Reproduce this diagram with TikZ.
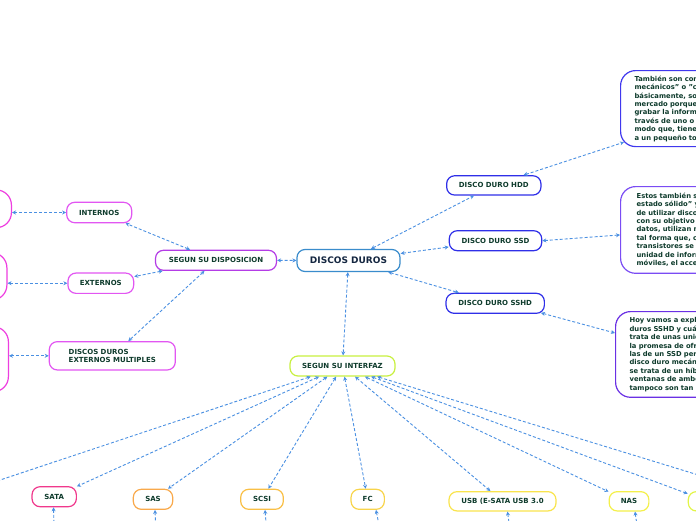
\documentclass[tikz,border=0pt]{standalone}
\usepackage{fontspec}
\setmainfont{DejaVu Sans}
\usetikzlibrary{arrows.meta,calc}
\definecolor{txt}{HTML}{0E3B2C}
\definecolor{navy}{HTML}{142640}
\definecolor{linkc}{HTML}{4A90E2}
\definecolor{cRoot}{HTML}{3A8CCC}
\definecolor{cDisp}{HTML}{B43CE6}
\definecolor{cSub}{HTML}{E256F2}
\definecolor{cLeft}{HTML}{EE3EE0}
\definecolor{cHdd}{HTML}{2F2FE8}
\definecolor{cBoxA}{HTML}{4038EE}
\definecolor{cBoxB}{HTML}{7A4CF4}
\definecolor{cBoxC}{HTML}{6A30E4}
\definecolor{cInt}{HTML}{C8F040}
\definecolor{cSata}{HTML}{F0388C}
\definecolor{cSas}{HTML}{F9A94B}
\definecolor{cScsi}{HTML}{F9BF45}
\definecolor{cFc}{HTML}{F8D44A}
\definecolor{cUsb}{HTML}{F9E44D}
\definecolor{cNas}{HTML}{F4F04B}
\definecolor{cLast}{HTML}{E2F548}
\begin{document}
\begin{tikzpicture}[x=1pt,y=-1pt,
  nd/.style={draw, fill=white, rounded corners=8pt, line width=1.2pt, inner sep=0pt, text=txt, font=\bfseries\fontsize{7}{8.5}\selectfont},
  txtbox/.style={draw, fill=white, rounded corners=15pt, line width=1.2pt, anchor=north west, inner ysep=0pt, text width=300pt, align=left, text=txt, font=\bfseries\fontsize{6.8}{8.4}\selectfont},
  cut/.style={draw=cLeft, fill=white, rounded corners=15pt, line width=1.2pt, anchor=east, minimum width=100pt, inner sep=0pt},
  link/.style={draw=linkc, line width=0.9pt, dash pattern=on 3pt off 2pt, {Stealth[length=4pt,width=4pt]}-{Stealth[length=4pt,width=4pt]}}
]
\useasboundingbox (0,0) rectangle (696,520);
\clip (0,0) rectangle (696,520);
\fill[white] (0,0) rectangle (696,520);

% central
\node[nd, draw=cRoot, text=navy, font=\bfseries\fontsize{9}{10}\selectfont, minimum width=103pt, minimum height=22pt] (root) at (348.5,260.5) {DISCOS DUROS};

% disposicion branch
\node[nd, draw=cDisp, minimum width=121pt, minimum height=20pt] (disp) at (216,260.3) {SEGUN SU DISPOSICION};
\node[nd, draw=cSub, minimum width=65pt, minimum height=20.4pt] (int) at (99.2,212.5) {INTERNOS};
\node[nd, draw=cSub, minimum width=65.7pt, minimum height=20.3pt] (ext) at (100.8,283.2) {EXTERNOS};
\node[nd, draw=cSub, minimum width=126pt, minimum height=28.3pt, align=left] (mult) at (112.3,355.8) {DISCOS DUROS\\EXTERNOS MULTIPLES};
\node[cut, minimum height=37.7pt] (l1) at (12,208.8) {};
\node[cut, minimum height=47.3pt] (l2) at (7.5,276.4) {};
\node[cut, minimum height=65pt] (l3) at (9,359.2) {};

% types
\node[nd, draw=cHdd, minimum width=94.3pt, minimum height=19.3pt] (hdd) at (493.8,185.4) {DISCO DURO HDD};
\node[nd, draw=cHdd, minimum width=92.4pt, minimum height=20pt] (ssd) at (495.5,240.7) {DISCO DURO SSD};
\node[nd, draw=cHdd, minimum width=98.3pt, minimum height=20pt] (sshd) at (495.2,303.3) {DISCO DURO SSHD};

\node[txtbox, draw=cBoxA, inner xsep=14pt, minimum height=76pt] (hddtxt) at (620,70) {%
También son conocidos como "discos duros\\
mecánicos" o "convencionales" y son,\\
básicamente, son los más usados en el\\
mercado porque son más baratos. Para\\
grabar la información utilizan un disco\\
través de uno o más cabezales, de tal\\
modo que, tienen un funcionamiento similar\\
a un pequeño tocadiscos.};

\node[txtbox, draw=cBoxB, inner xsep=16pt, minimum height=86.7pt] (ssdtxt) at (620,186) {%
Estos también son conocidos como "discos de\\
estado sólido" y surgieron ante la necesidad\\
de utilizar discos más rápidos y resistentes,\\
con su objetivo de almacenar grandes\\
datos, utilizan memorias flash, de\\
tal forma que, con ayuda de chips y\\
transistores se almacena la información en la\\
unidad de información, al no tener partes\\
móviles, el acceso es más rápido.};

\node[txtbox, draw=cBoxC, inner xsep=14pt, minimum height=85.7pt] (sshdtxt) at (615,311) {%
Hoy vamos a explicarte qué son los discos\\
duros SSHD y cuáles son sus ventajas. Se\\
trata de unas unidades de almacenamiento con\\
la promesa de ofrecer velocidades cercanas a\\
las de un SSD pero con la capacidad de un\\
disco duro mecánico. Básicamente,\\
se trata de un híbrido que aprovecha las\\
ventanas de ambos mundos, aunque\\
tampoco son tan rápidos como un SSD.};

% interfaz branch
\node[nd, draw=cInt, minimum width=105pt, minimum height=20pt] (intf) at (342.5,366) {SEGUN SU INTERFAZ};
\node[nd, draw=cSata, minimum width=44.3pt, minimum height=20pt] (sata) at (54.2,496.7) {SATA};
\node[nd, draw=cSas, minimum width=39.4pt, minimum height=20pt] (sas) at (153,499.3) {SAS};
\node[nd, draw=cScsi, minimum width=42.6pt, minimum height=20pt] (scsi) at (262,499.3) {SCSI};
\node[nd, draw=cFc, minimum width=33.3pt, minimum height=20pt] (fc) at (367.7,499.3) {FC};
\node[nd, draw=cUsb, minimum width=107pt, minimum height=19.3pt] (usb) at (502.5,501.3) {USB (E-SATA USB 3.0};
\node[nd, draw=cNas, minimum width=39.7pt, minimum height=19.3pt] (nas) at (629,501.3) {NAS};
\node[nd, draw=cLast, minimum width=40pt, minimum height=19.3pt] (last) at (708.3,501.3) {};

% free ends beyond the picture
\coordinate (offL) at (-60,500);
\coordinate (offR) at (780,500);
\coordinate (sataC) at (55,560);
\coordinate (sasC) at (157,560);
\coordinate (scsiC) at (269,560);
\coordinate (fcC) at (386,560);
\coordinate (usbC) at (514,560);
\coordinate (nasC) at (642,560);

% connectors
\draw[link] (disp) -- (root);
\draw[link] (root) -- (hdd);
\draw[link] (root) -- (ssd);
\draw[link] (root) -- (sshd);
\draw[link] (root) -- (intf);
\draw[link] (disp) -- (int);
\draw[link] (disp) -- (ext);
\draw[link] (disp) -- (mult);
\draw[link] (l1.east |- int.west) -- (int.west);
\draw[link] (l2.east |- ext.west) -- (ext.west);
\draw[link] (l3.east |- mult.west) -- (mult.west);
\draw[link] (hdd.19) -- ($(hddtxt.south west)+(4,-5)$);
\draw[link] (ssd.east) -- ($(ssdtxt.west)+(0,5)$);
\draw[link] ($(sshd.south east)+(-4,-1)$) -- ($(sshdtxt.north west)+(0,22)$);
\draw[link] (intf) -- (offL);
\draw[link] (intf) -- (sata);
\draw[link] (intf) -- (sas);
\draw[link] (intf) -- (scsi);
\draw[link] (intf) -- (fc);
\draw[link] (intf) -- (usb);
\draw[link] (intf) -- (nas);
\draw[link] (intf) -- (last);
\draw[link] (intf) -- (offR);
\draw[link] ([xshift=-0.7pt]sata.south) -- (sataC);
\draw[link] ([xshift=2pt]sas.south) -- (sasC);
\draw[link] ([xshift=3pt]scsi.south) -- (scsiC);
\draw[link] ([xshift=8.3pt]fc.south) -- (fcC);
\draw[link] ([xshift=5pt]usb.south) -- (usbC);
\draw[link] ([xshift=6pt]nas.south) -- (nasC);
\end{tikzpicture}
\end{document}
